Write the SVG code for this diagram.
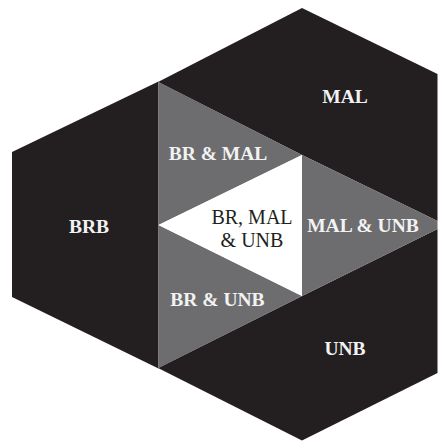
<svg xmlns="http://www.w3.org/2000/svg" width="438" height="444" viewBox="0 0 438 444">
  <style>
    .dark { fill: #231f20; }
    .gray { fill: #6d6d6f; }
    .core { fill: #ffffff; }
    .lbl { font-family: "Liberation Serif", "Times New Roman", serif; font-size: 19.5px; font-weight: bold; fill: #f2f2f2; text-anchor: middle; }
    .lbl-core { font-family: "Liberation Serif", "Times New Roman", serif; font-size: 20px; fill: #231f20; text-anchor: middle; }
  </style>
  <rect width="438" height="444" fill="#ffffff"/>

  <!-- single-group regions -->
  <g id="brb">
    <polygon class="dark" points="12,152 158.5,81.5 158.5,368.5 12,297"/>
    <text class="lbl" x="89" y="233">BRB</text>
  </g>
  <g id="mal">
    <polygon class="dark" points="158,82 302,8 437.5,74 437.5,221 302,155"/>
    <text class="lbl" x="345" y="103">MAL</text>
  </g>
  <g id="unb">
    <polygon class="dark" points="158,368 302,296 437.5,229 437.5,373 302,440.5"/>
    <text class="lbl" x="345" y="355">UNB</text>
  </g>

  <!-- pairwise overlaps -->
  <g id="br-mal">
    <polygon class="gray" points="158.5,82 158.5,225 302,155"/>
    <text class="lbl" x="218" y="160">BR &amp; MAL</text>
  </g>
  <g id="br-unb">
    <polygon class="gray" points="158.5,225 158.5,368 302,296"/>
    <text class="lbl" x="217.5" y="306">BR &amp; UNB</text>
  </g>
  <g id="mal-unb">
    <polygon class="gray" points="302,155 437.5,221 437.5,229 302,296"/>
    <text class="lbl" x="363" y="231.5">MAL &amp; UNB</text>
  </g>

  <!-- three-way overlap -->
  <g id="br-mal-unb">
    <polygon class="core" points="158.5,225 302,155 302,296"/>
    <text class="lbl-core" x="252" y="224">BR, MAL</text>
    <text class="lbl-core" x="252" y="246.5">&amp; UNB</text>
  </g>
</svg>
